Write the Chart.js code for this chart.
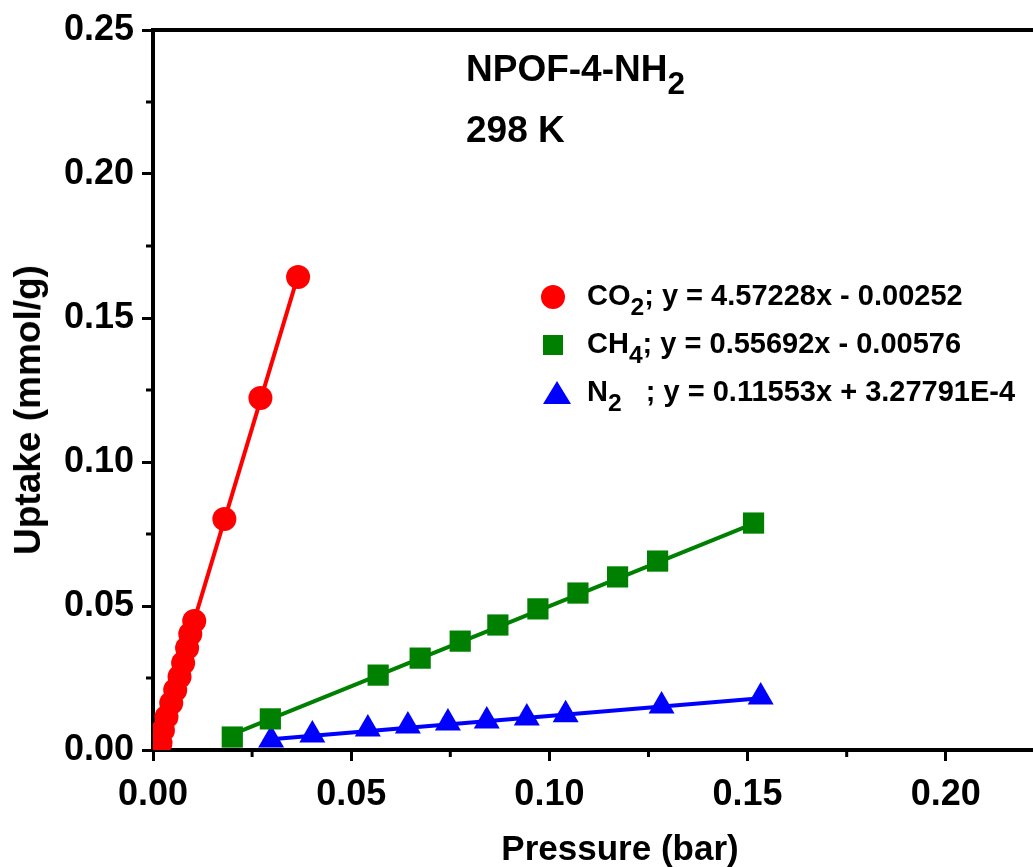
<!DOCTYPE html>
<html>
<head>
<meta charset="utf-8">
<script src="https://cdn.jsdelivr.net/npm/chart.js@4/dist/chart.umd.min.js"></script>
<style>
  html, body { margin: 0; padding: 0; background: #fff; }
  #wrap { position: relative; width: 1033px; height: 867px; font-family: "Liberation Sans", Arial, sans-serif; font-weight: bold; }
  #wrap canvas { position: absolute; left: 0; top: 0; }
  .txt { position: absolute; color: #000; white-space: nowrap; }
  .title { font-size: 37px; }
  .leg { font-size: 29px; }
  .axt { font-size: 35px; transform: translate(-50%, -50%); }
  sub { font-size: 0.85em; vertical-align: -0.4em; line-height: 0; }
  .mk { position: absolute; }
</style>
</head>
<body>
<div id="wrap">
  <canvas id="Uptake" width="1033" height="867"></canvas>
  <div class="txt title" style="left:466px; top:48px;">NPOF-4-NH<sub>2</sub></div>
  <div class="txt title" style="left:466px; top:109px;">298 K</div>

  <div class="mk" style="left:541px; top:285px; width:24px; height:24px; border-radius:50%; background:#ff0000;"></div>
  <div class="txt leg" style="left:587px; top:279px;">CO<sub>2</sub>; y = 4.57228x - 0.00252</div>

  <div class="mk" style="left:543px; top:335px; width:20px; height:20px; background:#008000;"></div>
  <div class="txt leg" style="left:587px; top:327px;">CH<sub>4</sub>; y = 0.55692x - 0.00576</div>

  <div class="mk" style="left:543px; top:381px; width:0; height:0; border-left:14px solid transparent; border-right:14px solid transparent; border-bottom:23px solid #0000ff;"></div>
  <div class="txt leg" style="left:587px; top:375px;">N<sub>2</sub>&nbsp;&nbsp;&nbsp;; y = 0.11553x + 3.27791E-4</div>

  <div class="txt axt" style="left:620px; top:848px;">Pressure (bar)</div>
  <div class="txt axt" style="left:28px; top:410px; font-size:37px; transform: translate(-50%, -50%) rotate(-90deg);">Uptake (mmol/g)</div>
</div>

<script>
// Tick labels
const xTicks = [0, 0.05, 0.10, 0.15, 0.20];
const yTicks = [0, 0.05, 0.10, 0.15, 0.20, 0.25];
const xMinor = [0.025, 0.075, 0.125, 0.175];
const yMinor = [0.025, 0.075, 0.125, 0.175, 0.225];

// CO2 points (pressure in bar, uptake in mmol/g)
const co2P = [0.0019, 0.0025, 0.0034, 0.0046, 0.0056, 0.0067, 0.0076, 0.0086, 0.0094, 0.0104, 0.0180, 0.0271, 0.0366];
const co2U = [0.0024, 0.0069, 0.0115, 0.0163, 0.0208, 0.0254, 0.0302, 0.0354, 0.0403, 0.0448, 0.0802, 0.1222, 0.1642];

// CH4 points
const ch4P = [0.0200, 0.0296, 0.0568, 0.0674, 0.0775, 0.0870, 0.0971, 0.1072, 0.1172, 0.1273, 0.1515];
const ch4U = [0.0045, 0.0108, 0.0260, 0.0319, 0.0378, 0.0434, 0.0490, 0.0545, 0.0601, 0.0656, 0.0788];

// N2 points
const n2P = [0.0298, 0.0402, 0.0542, 0.0643, 0.0744, 0.0842, 0.0943, 0.1041, 0.1283, 0.1533];
const n2U = [0.0035, 0.0052, 0.0073, 0.0083, 0.0094, 0.0101, 0.0111, 0.0122, 0.0153, 0.0184];

// Fit lines, ends
const co2LineP = [0.0006, 0.0372];
const co2LineU = [0.0002, 0.1676];
const ch4LineP = [0.0200, 0.1515];
const ch4LineU = [0.0054, 0.0786];
const n2LineP = [0.0298, 0.1533];
const n2LineU = [0.0037, 0.0180];

const toXY = (xs, ys) => xs.map((x, i) => ({ x: x, y: ys[i] }));

// Draws the short minor ticks and the top frame line
const frame = {
    id: 'frame',
    afterDraw(chart) {
        const c = chart.ctx;
        const a = chart.chartArea;
        const sx = chart.scales.x, sy = chart.scales.y;
        c.save();
        c.strokeStyle = '#000';
        c.lineWidth = 3;
        xMinor.forEach(v => {
            const px = sx.getPixelForValue(v);
            c.beginPath(); c.moveTo(px, a.bottom); c.lineTo(px, a.bottom + 7); c.stroke();
        });
        yMinor.forEach(v => {
            const py = sy.getPixelForValue(v);
            c.beginPath(); c.moveTo(a.left, py); c.lineTo(a.left - 7, py); c.stroke();
        });
        c.lineWidth = 4;
        c.beginPath(); c.moveTo(a.left - 2, a.top); c.lineTo(chart.width, a.top); c.stroke();
        c.restore();
    }
};

const tickFont = { family: 'Liberation Sans', size: 36, weight: 'bold' };

const ctx = document.getElementById("Uptake").getContext("2d");
new Chart(ctx, {
    type: "scatter",
    data: {
        datasets: [
            { data: toXY(co2P, co2U), backgroundColor: '#ff0000', borderWidth: 0, pointStyle: 'circle', pointRadius: 12, order: 0 },
            { data: toXY(ch4P, ch4U), backgroundColor: '#008000', borderWidth: 0, pointStyle: 'rect', pointRadius: 15, order: 0 },
            { data: toXY(n2P, n2U), backgroundColor: '#0000ff', borderWidth: 0, pointStyle: 'triangle', pointRadius: 15, order: 0 },
            { data: toXY(co2LineP, co2LineU), showLine: true, borderColor: '#ff0000', borderWidth: 4, pointRadius: 0, order: 1 },
            { data: toXY(ch4LineP, ch4LineU), showLine: true, borderColor: '#008000', borderWidth: 4, pointRadius: 0, order: 1 },
            { data: toXY(n2LineP, n2LineU), showLine: true, borderColor: '#0000ff', borderWidth: 4, pointRadius: 0, order: 1 }
        ]
    },
    options: {
        responsive: false,
        animation: false,
        layout: { autoPadding: false, padding: { top: 30, left: 0, right: 0, bottom: 0 } },
        plugins: {
            legend: { display: false },
            tooltip: { enabled: false }
        },
        scales: {
            x: {
                type: 'linear',
                min: 0,
                max: 0.222,
                afterBuildTicks: scale => { scale.ticks = xTicks.map(v => ({ value: v })); },
                afterFit: scale => { scale.height = 117; scale.paddingLeft = 0; scale.paddingRight = 0; },
                border: { color: '#000', width: 4 },
                grid: { drawOnChartArea: false, color: '#000', tickLength: 11, tickWidth: 3 },
                ticks: {
                    color: '#000',
                    padding: 12,
                    maxRotation: 0,
                    font: tickFont,
                    callback: v => v.toFixed(2)
                }
            },
            y: {
                type: 'linear',
                min: 0,
                max: 0.25,
                afterBuildTicks: scale => { scale.ticks = yTicks.map(v => ({ value: v })); },
                afterFit: scale => { scale.width = 153; scale.paddingTop = 0; scale.paddingBottom = 0; },
                border: { color: '#000', width: 4 },
                grid: { drawOnChartArea: false, color: '#000', tickLength: 11, tickWidth: 3 },
                ticks: {
                    color: '#000',
                    padding: 8,
                    font: tickFont,
                    callback: v => v.toFixed(2)
                }
            }
        }
    },
    plugins: [frame]
});
</script>
</body>
</html>
